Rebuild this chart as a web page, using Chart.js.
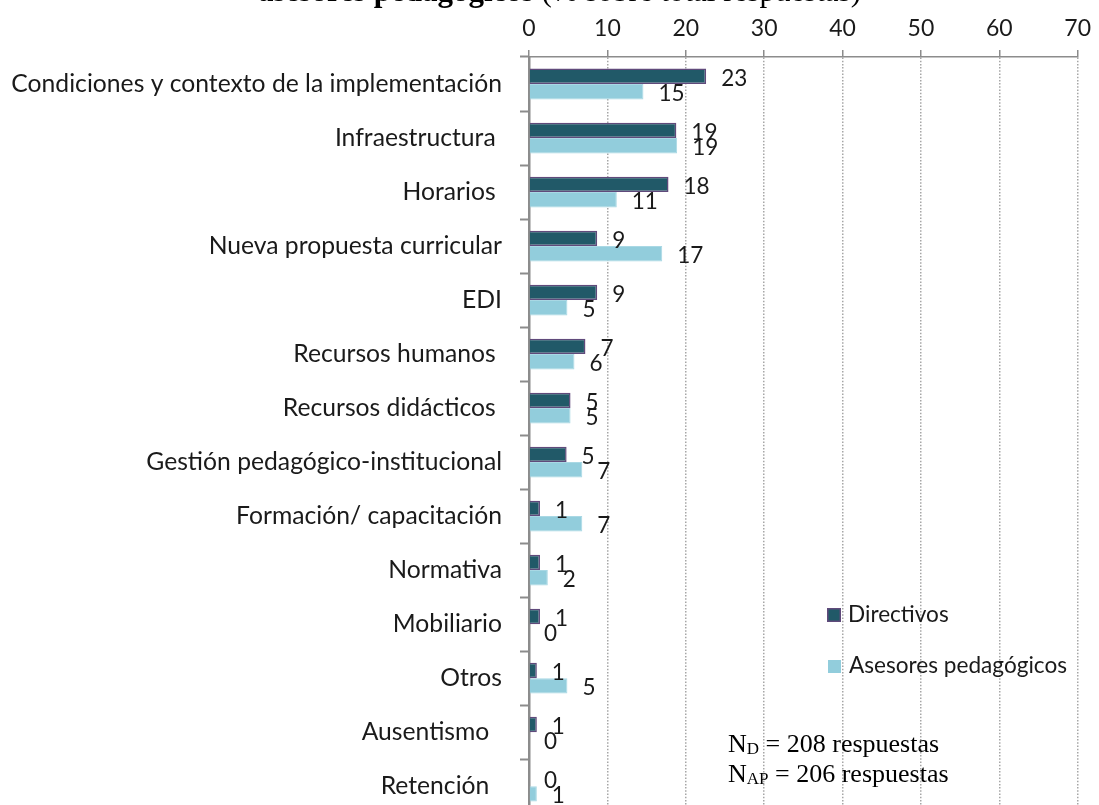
<!DOCTYPE html>
<html>
<head>
<meta charset="utf-8">
<script src="https://cdn.jsdelivr.net/npm/chart.js@4.4.0/dist/chart.umd.min.js"></script>
<style>
  html, body { margin: 0; padding: 0; background: #fff; overflow: hidden; width: 1099px; height: 805px; }
  #wrap { position: relative; width: 1099px; height: 805px; overflow: hidden; }
  #myChart { position: absolute; left: 0; top: 0; }
  #title { position: absolute; left: 258px; top: -27px; font-family: 'Liberation Serif', 'Times New Roman', serif; font-size: 31px; color: #000; white-space: nowrap; }
  #nota { position: absolute; left: 728px; top: 729px; font-family: 'Liberation Serif', 'Times New Roman', serif; font-size: 26px; line-height: 30px; color: #000; white-space: nowrap; }
  #nota sub { font-size: 17px; line-height: 0; vertical-align: -2px; }
</style>
</head>
<body>
<div id="wrap">
  <canvas id="myChart" width="1099" height="846"></canvas>
  <div id="title"><b>asesores pedagógicos</b> (% sobre total respuestas)</div>
  <div id="nota">N<sub>D</sub> = 208 respuestas<br>N<sub>AP</sub> = 206 respuestas</div>
</div>
<script>
const categorias = [
    'Condiciones y contexto de la implementación',
    'Infraestructura ',
    'Horarios ',
    'Nueva propuesta curricular',
    'EDI',
    'Recursos humanos ',
    'Recursos didácticos ',
    'Gestión pedagógico-institucional',
    'Formación/ capacitación',
    'Normativa',
    'Mobiliario',
    'Otros',
    'Ausentismo  ',
    'Retención  '
];
// % sobre total respuestas
const directivos = [22.6, 18.8, 17.8, 8.7, 8.7, 7.2, 5.3, 4.8, 1.4, 1.4, 1.4, 1.0, 1.0, 0];
const asesores = [14.6, 18.9, 11.2, 17.0, 4.9, 5.8, 5.3, 6.8, 6.8, 2.4, 0, 4.9, 0, 1.0];
const xTicks = [0, 10, 20, 30, 40, 50, 60, 70];

const fuente = "Lato, 'Open Sans', sans-serif";

// etiquetas de valor al final de cada barra
const etiquetas = {
    id: 'etiquetas',
    afterDatasetsDraw(chart) {
        const ctx = chart.ctx;
        ctx.save();
        ctx.font = '22.5px ' + fuente;
        ctx.fillStyle = '#1a1a1a';
        ctx.textAlign = 'left';
        ctx.textBaseline = 'middle';
        chart.data.datasets.forEach((ds, i) => {
            chart.getDatasetMeta(i).data.forEach((bar, j) => {
                ctx.fillText(String(Math.round(ds.data[j])), bar.x + 15, bar.y + 2);
            });
        });
        ctx.restore();
    }
};

// leyenda dentro del area
const leyenda = {
    id: 'leyenda',
    afterDraw(chart) {
        const ctx = chart.ctx;
        const items = [
            { ds: chart.data.datasets[0], x: 827, y: 608, s: 14, ty: 615 },
            { ds: chart.data.datasets[1], x: 828, y: 660, s: 13, ty: 666 }
        ];
        ctx.save();
        ctx.font = '22.6px ' + fuente;
        ctx.textAlign = 'left';
        ctx.textBaseline = 'middle';
        items.forEach(it => {
            ctx.fillStyle = it.ds.backgroundColor;
            ctx.fillRect(it.x, it.y, it.s, it.s);
            if (it.ds.borderWidth > 1) {
                ctx.strokeStyle = it.ds.borderColor;
                ctx.lineWidth = 1.5;
                ctx.strokeRect(it.x + 0.75, it.y + 0.75, it.s - 1.5, it.s - 1.5);
            }
            ctx.fillStyle = '#1a1a1a';
            ctx.fillText(it.ds.label, it.x + 21, it.ty);
        });
        ctx.restore();
    }
};

var ctx = document.getElementById('myChart').getContext('2d');
var myChart = new Chart(ctx, {
    type: 'bar',
    data: {
        labels: categorias,
        datasets: [{
            label: 'Directivos',
            data: directivos,
            backgroundColor: '#215968',
            borderColor: '#604a7b',
            borderWidth: 1.5
        },
        {
            label: 'Asesores pedagógicos',
            data: asesores,
            backgroundColor: '#92cddc',
            borderColor: '#a9d8e4',
            borderWidth: 1
        }]
    },
    options: {
        indexAxis: 'y',
        responsive: false,
        animation: false,
        devicePixelRatio: 1,
        categoryPercentage: 0.57,
        barPercentage: 1.0,
        layout: { padding: { top: 0, right: 14, bottom: 2, left: 0 } },
        plugins: {
            legend: { display: false },
            tooltip: { enabled: false }
        },
        scales: {
            x: {
                position: 'top',
                min: 0,
                max: 70,
                afterBuildTicks: (scale) => { scale.ticks = xTicks.map(v => ({ value: v })); },
                afterFit: (scale) => { scale.height = 57; },
                ticks: {
                    font: { family: fuente, size: 23 },
                    color: '#1a1a1a',
                    padding: 8
                },
                grid: {
                    color: '#a6a6a6',
                    lineWidth: 1.5,
                    drawTicks: true,
                    tickLength: 7,
                    tickColor: '#8c8c8c',
                    tickWidth: 1.5,
                    tickBorderDash: []
                },
                border: { color: '#8c8c8c', width: 1.5, dash: [1.5, 1.7] }
            },
            y: {
                afterFit: (scale) => { scale.width = 529; },
                ticks: {
                    font: { family: fuente, size: 24.7 },
                    color: '#1a1a1a',
                    padding: 18,
                    autoSkip: false
                },
                grid: {
                    drawOnChartArea: false,
                    drawTicks: true,
                    tickLength: 9,
                    tickColor: '#8c8c8c',
                    tickWidth: 2
                },
                border: { color: '#8c8c8c', width: 2.5 }
            }
        }
    },
    plugins: [etiquetas, leyenda]
});
</script>
</body>
</html>
